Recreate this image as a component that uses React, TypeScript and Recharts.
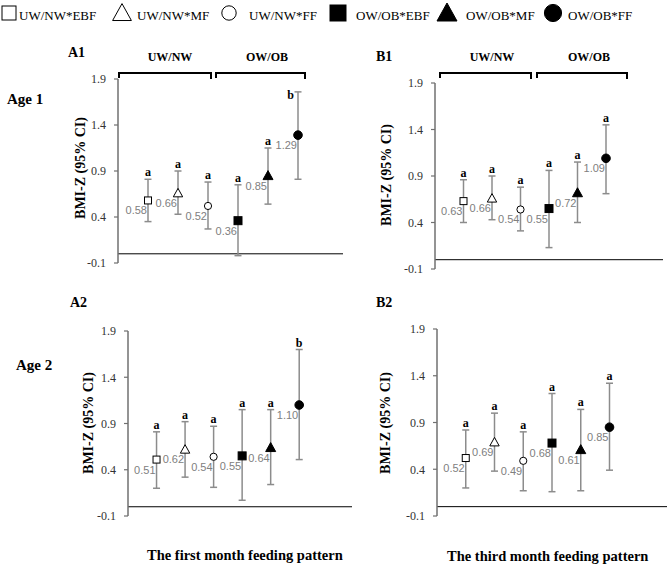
import { ScatterChart, Scatter, XAxis, YAxis, ErrorBar, ReferenceLine } from 'recharts'

const SERIF = "'Liberation Serif', 'Times New Roman', serif"
const SANS = "'Liberation Sans', Arial, sans-serif"

const groups = ['UW/NW*EBF', 'UW/NW*MF', 'UW/NW*FF', 'OW/OB*EBF', 'OW/OB*MF', 'OW/OB*FF']
const markerKinds = ['sq', 'tri', 'cir', 'sqF', 'triF', 'cirF']
const yTicks = [-0.1, 0.4, 0.9, 1.4, 1.9]

// A1: age 1, first month
const a1Mean = [0.58, 0.66, 0.52, 0.36, 0.85, 1.29]
const a1Low = [0.35, 0.43, 0.27, -0.02, 0.54, 0.81]
const a1High = [0.81, 0.9, 0.78, 0.75, 1.15, 1.76]
const a1Letters = ['a', 'a', 'a', 'a', 'a', 'b']

// B1: age 1, third month
const b1Mean = [0.63, 0.66, 0.54, 0.55, 0.72, 1.09]
const b1Low = [0.4, 0.43, 0.31, 0.13, 0.4, 0.71]
const b1High = [0.86, 0.9, 0.78, 0.96, 1.05, 1.45]
const b1Letters = ['a', 'a', 'a', 'a', 'a', 'a']

// A2: age 2, first month
const a2Mean = [0.51, 0.62, 0.54, 0.55, 0.64, 1.1]
const a2Low = [0.2, 0.32, 0.21, 0.07, 0.24, 0.51]
const a2High = [0.81, 0.92, 0.87, 1.05, 1.05, 1.7]
const a2Letters = ['a', 'a', 'a', 'a', 'a', 'b']

// B2: age 2, third month
const b2Mean = [0.52, 0.69, 0.49, 0.68, 0.61, 0.85]
const b2Low = [0.2, 0.38, 0.17, 0.16, 0.17, 0.39]
const b2High = [0.82, 1.0, 0.8, 1.21, 1.04, 1.32]
const b2Letters = ['a', 'a', 'a', 'a', 'a', 'a']

const YW = 40

const panels = [
  { id: 'A1', mean: a1Mean, low: a1Low, high: a1High, letters: a1Letters, axisX: 118, yTop: 79, plotW: 225, plotH: 184, xMax: 7.5, letterLeft: 5 },
  { id: 'B1', mean: b1Mean, low: b1Low, high: b1High, letters: b1Letters, axisX: 435, yTop: 83, plotW: 228, plotH: 186, xMax: 8, letterLeft: -1 },
  { id: 'A2', mean: a2Mean, low: a2Low, high: a2High, letters: a2Letters, axisX: 128, yTop: 331, plotW: 224, plotH: 185, xMax: 7.85, letterLeft: -1 },
  { id: 'B2', mean: b2Mean, low: b2Low, high: b2High, letters: b2Letters, axisX: 437, yTop: 329, plotW: 230, plotH: 187, xMax: 8, letterLeft: -1 },
]

function Marker({ kind, cx, cy, k = 1 }: { kind: string; cx: number; cy: number; k?: number }) {
  const filled = kind.endsWith('F')
  const fill = filled ? '#000' : '#fff'
  const base = kind.replace('F', '')
  if (base === 'sq') {
    const h = (filled ? 4 : 3.5) * k
    return <rect x={cx - h} y={cy - h} width={2 * h} height={2 * h} fill={fill} stroke="#000" strokeWidth={1} />
  }
  if (base === 'tri') {
    const w = (filled ? 5 : 4.7) * k
    const t = (filled ? 5 : 4.7) * k
    return <path d={`M${cx},${cy - t} L${cx + w},${cy + t * 0.8} L${cx - w},${cy + t * 0.8} Z`} fill={fill} stroke="#000" strokeWidth={1} />
  }
  const r = (filled ? 4.3 : 3.6) * k
  return <circle cx={cx} cy={cy} r={r} fill={fill} stroke="#000" strokeWidth={1} />
}

function Panel({ p }: { p: (typeof panels)[number] }) {
  const rows = p.mean.map((m, i) => ({ x: i + 1, y: m, err: [m - p.low[i], p.high[i] - m], i }))
  const letterRows = p.high.map((h, i) => ({ x: i + 1, y: h, letter: p.letters[i], i }))
  return (
    <div style={{ position: 'absolute', left: p.axisX - YW, top: p.yTop - 10 }}>
      <ScatterChart width={YW + p.plotW} height={p.plotH + 20} margin={{ top: 10, right: 0, bottom: 10, left: 0 }}>
        <XAxis type="number" dataKey="x" domain={[0, p.xMax]} hide />
        <YAxis
          type="number"
          dataKey="y"
          width={YW}
          domain={[-0.1, 1.9]}
          ticks={yTicks}
          tickFormatter={(v: number) => v.toFixed(1)}
          axisLine={{ stroke: '#707070', strokeWidth: 1.5 }}
          tickLine={{ stroke: '#707070', strokeWidth: 1.2 }}
          tickSize={4}
          tickMargin={8}
          tick={{ fill: '#333', fontFamily: SERIF, fontSize: 12 }}
        />
        <ReferenceLine y={0} stroke="#000" strokeWidth={1} ifOverflow="extendDomain" />
        <Scatter
          data={rows}
          isAnimationActive={false}
          shape={(s: any) => (
            <g>
              <Marker kind={markerKinds[s.payload.i]} cx={s.cx} cy={s.cy} />
              <text x={s.cx - 1} y={s.cy + 14} textAnchor="end" fontFamily={SANS} fontSize={11} fill="#808080">
                {s.payload.y.toFixed(2)}
              </text>
            </g>
          )}
        >
          <ErrorBar dataKey="err" direction="y" width={3.5} stroke="#8c8c8c" strokeWidth={1.5} isAnimationActive={false} />
        </Scatter>
        <Scatter
          data={letterRows}
          isAnimationActive={false}
          shape={(s: any) =>
            s.payload.i === p.letterLeft ? (
              <text x={s.cx - 4} y={s.cy + 7} textAnchor="end" fontFamily={SERIF} fontWeight="bold" fontSize={12} fill="#000">
                {s.payload.letter}
              </text>
            ) : (
              <text x={s.cx} y={s.cy - 3} textAnchor="middle" fontFamily={SERIF} fontWeight="bold" fontSize={12} fill="#000">
                {s.payload.letter}
              </text>
            )
          }
        />
      </ScatterChart>
    </div>
  )
}

const legendMarkX = [9, 122, 229, 338, 447, 553]
const legendTextX = [19, 137, 249, 356, 466, 568]

function Overlay() {
  const t = { fontFamily: SERIF, fontWeight: 'bold' as const, fill: '#000' }
  const bracket = (x1: number, x2: number) => (
    <path d={`M${x1},78 L${x1},73 L${x2},73 L${x2},79`} fill="none" stroke="#000" strokeWidth={2} />
  )
  return (
    <svg width={667} height={568} style={{ position: 'absolute', left: 0, top: 0, pointerEvents: 'none' }}>
      {groups.map((g, i) => (
        <g key={g}>
          <Marker kind={markerKinds[i]} cx={legendMarkX[i]} cy={13} k={2} />
          <text x={legendTextX[i]} y={20} fontFamily={SERIF} fontSize={13} fill="#000">{g}</text>
        </g>
      ))}

      <text x={68} y={57} fontSize={14} {...t}>A1</text>
      <text x={376} y={61} fontSize={14} {...t}>B1</text>
      <text x={70} y={307} fontSize={14} {...t}>A2</text>
      <text x={376} y={307} fontSize={14} {...t}>B2</text>

      <text x={7} y={104} fontSize={15} {...t}>Age 1</text>
      <text x={16} y={370} fontSize={15} {...t}>Age 2</text>

      <text x={170} y={61} fontSize={12} textAnchor="middle" {...t}>UW/NW</text>
      <text x={267} y={61} fontSize={12} textAnchor="middle" {...t}>OW/OB</text>
      <text x={492} y={61} fontSize={12} textAnchor="middle" {...t}>UW/NW</text>
      <text x={589} y={61} fontSize={12} textAnchor="middle" {...t}>OW/OB</text>
      {bracket(119, 211)}
      {bracket(216, 305)}
      {bracket(440, 531)}
      {bracket(537, 627)}

      {[
        [80, 168],
        [386, 175],
        [88, 423],
        [385, 423],
      ].map(([x, y]) => (
        <text key={`${x}-${y}`} x={x} y={y} fontSize={14} textAnchor="middle" dominantBaseline="central" transform={`rotate(-90 ${x} ${y})`} {...t}>
          BMI-Z (95% CI)
        </text>
      ))}

      <text x={147} y={560} fontSize={14.5} {...t}>The first month  feeding pattern</text>
      <text x={447} y={561} fontSize={14.5} {...t}>The third month  feeding pattern</text>
    </svg>
  )
}

export default function App() {
  return (
    <div style={{ position: 'absolute', left: 0, top: 0, width: 667, height: 568, background: '#fff', overflow: 'hidden' }}>
      {panels.map((p) => (
        <Panel key={p.id} p={p} />
      ))}
      <Overlay />
    </div>
  )
}
